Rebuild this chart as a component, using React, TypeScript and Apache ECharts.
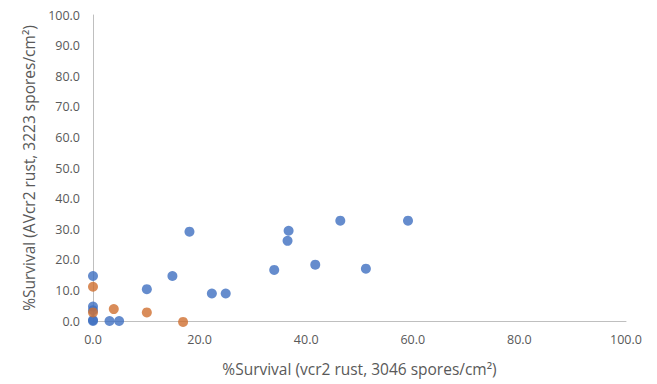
import React, { useEffect, useRef } from "react";
import * as echarts from "echarts";

const blueSeries: [number, number][] = [
  [0, 14.7], [0, 4.7], [0, 3.5], [0, 0.3], [0, 0], [3.1, 0], [4.9, 0],
  [10.1, 10.4], [14.9, 14.7], [18.1, 29.2], [22.3, 9.0], [24.9, 9.0],
  [34.0, 16.7], [36.7, 29.5], [36.5, 26.2], [41.7, 18.4], [46.4, 32.8],
  [51.2, 17.1], [59.1, 32.8],
];
const orangeSeries: [number, number][] = [
  [0, 11.2], [0, 2.8], [3.9, 3.9], [10.1, 2.8], [16.9, -0.3],
];
const xTitle = "%Survival (vcr2 rust, 3046 spores/cm²)";
const yTitle = "%Survival (AVcr2 rust, 3223 spores/cm²)";

export default function App() {
  const ref = useRef<HTMLDivElement>(null);
  useEffect(() => {
    if (!ref.current) return;
    const chart = echarts.init(ref.current, null, { renderer: "svg" });
    const font = "'Open Sans', sans-serif";
    const labelStyle = { color: "#595959", fontSize: 12.5, fontFamily: font };
    chart.setOption({
      animation: false,
      backgroundColor: "#fff",
      grid: { left: 93, right: 31, top: 15, bottom: 63 },
      xAxis: {
        type: "value",
        min: 0,
        max: 100,
        interval: 20,
        axisLine: { show: true, lineStyle: { color: "#bfbfbf", width: 1 } },
        axisTick: { show: false },
        splitLine: { show: false },
        axisLabel: { ...labelStyle, formatter: (v: number) => v.toFixed(1), margin: 12 },
        name: xTitle,
        nameLocation: "middle",
        nameGap: 40,
        nameTextStyle: { color: "#595959", fontSize: 15.5, fontFamily: font },
      },
      yAxis: {
        type: "value",
        min: 0,
        max: 100,
        interval: 10,
        axisLine: { show: true, lineStyle: { color: "#bfbfbf", width: 1 } },
        axisTick: { show: false },
        splitLine: { show: false },
        axisLabel: { ...labelStyle, formatter: (v: number) => v.toFixed(1), margin: 13 },
        name: yTitle,
        nameLocation: "middle",
        nameGap: 52,
        nameTextStyle: { color: "#595959", fontSize: 15.5, fontFamily: font },
      },
      series: [
        {
          type: "scatter",
          data: blueSeries,
          symbolSize: 10,
          clip: false,
          itemStyle: { color: "#3E6FC0" },
        },
        {
          type: "scatter",
          data: orangeSeries,
          symbolSize: 10,
          clip: false,
          itemStyle: { color: "#CF6F30" },
        },
      ],
    });
    return () => chart.dispose();
  }, []);
  return <div ref={ref} style={{ width: 657, height: 384, position: "absolute", left: 0, top: 0 }} />;
}
